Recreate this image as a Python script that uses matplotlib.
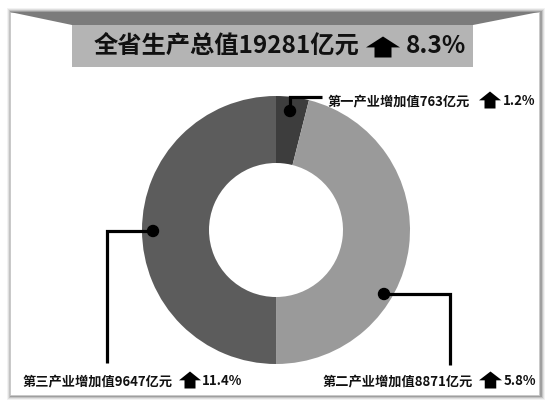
import matplotlib.pyplot as plt
from matplotlib.patches import Rectangle, Polygon, Circle

plt.rcParams['font.family'] = ['Noto Sans CJK SC', 'DejaVu Sans']

W, H = 550, 407

sectors = ["第一产业", "第二产业", "第三产业"]
values = [763, 8871, 9647]
growth = ["1.2%", "5.8%", "11.4%"]
total = 19281
total_growth = "8.3%"
colors = ["#3d3d3d", "#9a9a9a", "#5c5c5c"]


def fy(y):
    return H - y


def up_arrow(ax, x0, x1, ymid, h):
    # house-shaped up arrow
    w = x1 - x0
    cx = (x0 + x1) / 2
    top, bot = ymid - h / 2, ymid + h / 2
    neck = top + h * 0.52
    sw = w * 0.5
    pts = [(cx, top), (x1, neck), (cx + sw / 2, neck), (cx + sw / 2, bot),
           (cx - sw / 2, bot), (cx - sw / 2, neck), (x0, neck)]
    ax.add_patch(Polygon([(x, fy(y)) for x, y in pts], closed=True,
                         color="black", lw=0, zorder=5))


fig = plt.figure(figsize=(W / 100, H / 100), dpi=100)
fig.patch.set_facecolor("white")
ax = fig.add_axes([0, 0, 1, 1])

# frame with soft shadow
for i, a in enumerate([0.05, 0.08, 0.12, 0.18]):
    d = 4 - i
    ax.add_patch(Rectangle((10 - d + 1, fy(396 + d)), 530 + 2 * d, 384 + 2 * d,
                           color="black", alpha=a, lw=0, zorder=0))
ax.add_patch(Rectangle((10, fy(395)), 529, 383, facecolor="white",
                       edgecolor="#c8c8c8", lw=0.6, zorder=1))

# banner
ax.add_patch(Polygon([(10, fy(12)), (539, fy(12)), (473, fy(25)), (72, fy(25))],
                     closed=True, color="#7b7b7b", lw=0, zorder=2))
ax.add_patch(Rectangle((72, fy(67)), 401, 42, color="#b4b4b4", lw=0, zorder=2))
ax.text(94, fy(46), f"全省生产总值{total}亿元", fontsize=17.5, fontweight="heavy",
        ha="left", va="center", color="#111111", zorder=6)
up_arrow(ax, 366, 400, 47, 21)
ax.text(406, fy(46), total_growth, fontsize=17.5, fontweight="bold",
        ha="left", va="center", color="#111111", zorder=6)

# donut
wedges, _ = ax.pie(values, startangle=90, counterclock=False, colors=colors,
                   radius=134, center=(276, fy(230)),
                   wedgeprops=dict(width=67, linewidth=0, zorder=3))

# leader lines: (dot, elbow, end)
leaders = [
    [(290, 111), (290, 97), (322, 97)],
    [(384, 294), (450, 294), (450, 365)],
    [(153, 231), (107, 231), (107, 363)],
]
label_pos = [(328, 101), (323, 381), (23, 381)]
arrow_pos = [(479, 501), (479, 502), (179, 201)]
pct_pos = [503, 504, 202]

for i, name in enumerate(sectors):
    pts = leaders[i]
    ax.plot([p[0] for p in pts], [fy(p[1]) for p in pts], color="black",
            lw=2.3, solid_capstyle="butt", solid_joinstyle="miter", zorder=4)
    ax.add_patch(Circle((pts[0][0], fy(pts[0][1])), 5.5, color="black", zorder=5))
    lx, ly = label_pos[i]
    ax.text(lx, fy(ly), f"{name}增加值{values[i]}亿元", fontsize=9.5,
            fontweight="heavy", ha="left", va="center", color="#111111", zorder=6)
    up_arrow(ax, arrow_pos[i][0], arrow_pos[i][1], ly - 1, 17)
    ax.text(pct_pos[i], fy(ly), growth[i], fontsize=9.5, fontweight="bold",
            ha="left", va="center", color="#111111", zorder=6)

ax.set_xlim(0, W)
ax.set_ylim(0, H)
ax.set_aspect("auto")
ax.axis("off")

fig.savefig("out.png", dpi=100)
